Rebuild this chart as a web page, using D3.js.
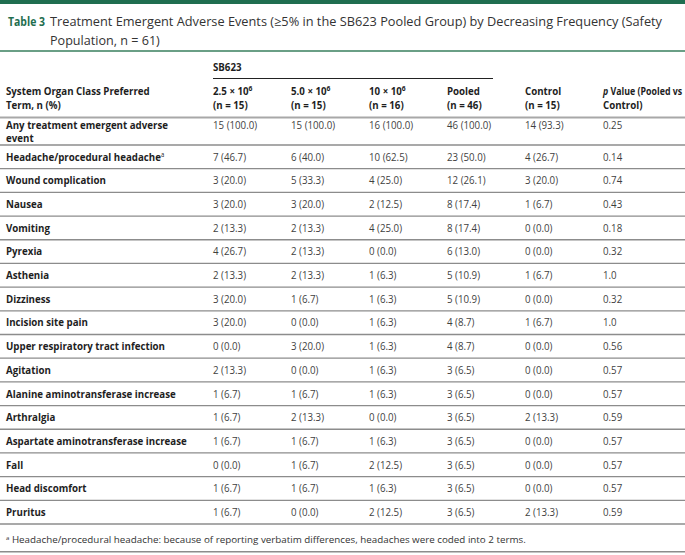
<!DOCTYPE html>
<html>
<head>
<meta charset="utf-8">
<script src="https://cdn.jsdelivr.net/npm/d3@7"></script>
<style>
  html, body { margin: 0; padding: 0; background: #fff; }
  svg { display: block; font-family: "Open Sans", "Noto Sans", sans-serif; }
</style>
</head>
<body>
<svg id="chart" width="685" height="555"></svg>
<script>
// ---------- data ----------
const titleLabel = "Table 3";
const titleLines = [
  "Treatment Emergent Adverse Events (≥5% in the SB623 Pooled Group) by Decreasing Frequency (Safety",
  "Population, n = 61)"
];
const groupLabel = "SB623";
const stubHeader = ["System Organ Class Preferred", "Term, n (%)"];
const columnKeys = ["d25", "d50", "d10", "pooled", "control", "p"];
const columnHeads = [
  [{t: "2.5 × 10"}, {t: "6", sup: true}],
  [{t: "5.0 × 10"}, {t: "6", sup: true}],
  [{t: "10 × 10"}, {t: "6", sup: true}],
  [{t: "Pooled"}],
  [{t: "Control"}],
  [{t: "p", it: true}, {t: " Value (Pooled vs"}]
];
const columnSub = ["(n = 15)", "(n = 15)", "(n = 16)", "(n = 46)", "(n = 15)", "Control)"];

const anyLabel = ["Any treatment emergent adverse", "event"];
const anyValues = ["15 (100.0)", "15 (100.0)", "16 (100.0)", "46 (100.0)", "14 (93.3)", "0.25"];

const terms = [
  "Headache/procedural headache", "Wound complication", "Nausea", "Vomiting", "Pyrexia",
  "Asthenia", "Dizziness", "Incision site pain", "Upper respiratory tract infection",
  "Agitation", "Alanine aminotransferase increase", "Arthralgia",
  "Aspartate aminotransferase increase", "Fall", "Head discomfort", "Pruritus"
];
const termNotes = ["a", "", "", "", "", "", "", "", "", "", "", "", "", "", "", ""];
const dose25 = ["7 (46.7)", "3 (20.0)", "3 (20.0)", "2 (13.3)", "4 (26.7)", "2 (13.3)", "3 (20.0)", "3 (20.0)", "0 (0.0)", "2 (13.3)", "1 (6.7)", "1 (6.7)", "1 (6.7)", "0 (0.0)", "1 (6.7)", "1 (6.7)"];
const dose50 = ["6 (40.0)", "5 (33.3)", "3 (20.0)", "2 (13.3)", "2 (13.3)", "2 (13.3)", "1 (6.7)", "0 (0.0)", "3 (20.0)", "0 (0.0)", "1 (6.7)", "2 (13.3)", "1 (6.7)", "1 (6.7)", "1 (6.7)", "0 (0.0)"];
const dose10 = ["10 (62.5)", "4 (25.0)", "2 (12.5)", "4 (25.0)", "0 (0.0)", "1 (6.3)", "1 (6.3)", "1 (6.3)", "1 (6.3)", "1 (6.3)", "1 (6.3)", "0 (0.0)", "1 (6.3)", "2 (12.5)", "1 (6.3)", "2 (12.5)"];
const pooled = ["23 (50.0)", "12 (26.1)", "8 (17.4)", "8 (17.4)", "6 (13.0)", "5 (10.9)", "5 (10.9)", "4 (8.7)", "4 (8.7)", "3 (6.5)", "3 (6.5)", "3 (6.5)", "3 (6.5)", "3 (6.5)", "3 (6.5)", "3 (6.5)"];
const control = ["4 (26.7)", "3 (20.0)", "1 (6.7)", "0 (0.0)", "0 (0.0)", "1 (6.7)", "0 (0.0)", "1 (6.7)", "0 (0.0)", "0 (0.0)", "0 (0.0)", "2 (13.3)", "0 (0.0)", "0 (0.0)", "0 (0.0)", "2 (13.3)"];
const pValues = ["0.14", "0.74", "0.43", "0.18", "0.32", "1.0", "0.32", "1.0", "0.56", "0.57", "0.57", "0.59", "0.57", "0.57", "0.57", "0.59"];

const footnoteMark = "a";
const footnoteText = " Headache/procedural headache: because of reporting verbatim differences, headaches were coded into 2 terms.";

// ---------- layout ----------
const W = 685, H = 555;
const SX = 0.9;               // horizontal text compression
const svg = d3.select("#chart");
const green = "#1f6e50", greenLight = "#6a9f86";
const labelColor = "#1e1e1e", cellColor = "#3f3f3f";
const labelSize = 10.8, cellSize = 10.8;
const labelX = 6;

const x = d3.scaleBand().domain(columnKeys).range([213, 681]);
const y = d3.scaleBand().domain(terms).range([145, 524]);

function txt(parent, px, py, size, weight, color) {
  return parent.append("text")
    .attr("transform", `translate(${px},${py}) scale(${SX},1)`)
    .attr("font-size", size).attr("font-weight", weight).attr("fill", color);
}

// top bar
svg.append("rect").attr("x", 0).attr("y", 0).attr("width", W).attr("height", 4).attr("fill", green);

// title
svg.append("text").attr("x", 8).attr("y", 26).attr("font-size", 12.6).attr("font-weight", 700)
  .attr("fill", green).attr("textLength", 37).attr("lengthAdjust", "spacingAndGlyphs").text(titleLabel);
svg.append("text").attr("x", 50).attr("y", 26).attr("font-size", 12.6).attr("fill", "#333")
  .attr("textLength", 612).attr("lengthAdjust", "spacingAndGlyphs").text(titleLines[0]);
svg.append("text").attr("x", 50).attr("y", 45).attr("font-size", 12.6).attr("fill", "#333").text(titleLines[1]);

svg.append("rect").attr("x", 0).attr("y", 50).attr("width", W).attr("height", 2).attr("fill", greenLight);

// header
txt(svg, x("d25"), 71, labelSize, 700, labelColor).text(groupLabel);
svg.append("line").attr("x1", x("d25")).attr("x2", x("pooled") + 46).attr("y1", 78.5).attr("y2", 78.5)
  .attr("stroke", "#222").attr("stroke-width", 1);

stubHeader.forEach((s, i) => {
  txt(svg, labelX, 95 + i * 14, labelSize, 700, labelColor).text(s);
});

columnKeys.forEach((k, i) => {
  const t = txt(svg, x(k), 95, k === "p" ? 9.8 : labelSize, 700, labelColor);
  columnHeads[i].forEach(p => {
    const ts = t.append("tspan").text(p.t);
    if (p.sup) ts.attr("font-size", 7.5).attr("dy", -4.5);
    if (p.it) ts.attr("font-style", "italic");
  });
  txt(svg, x(k), 109, labelSize, 700, labelColor).text(columnSub[i]);
});

svg.append("rect").attr("x", 0).attr("y", 116.5).attr("width", W).attr("height", 2).attr("fill", "#a8a8a8");

// "Any" row
anyLabel.forEach((s, i) => {
  txt(svg, labelX, 128.5 + i * 13.5, labelSize, 700, labelColor).text(s);
});
columnKeys.forEach((k, i) => {
  txt(svg, x(k), 128.5, cellSize, 400, cellColor).text(anyValues[i]);
});

// rows
const rows = terms.map((t, i) => ({
  term: t, note: termNotes[i],
  d25: dose25[i], d50: dose50[i], d10: dose10[i], pooled: pooled[i], control: control[i], p: pValues[i]
}));

const sepY = [y(terms[0])].concat(terms.map(t => y(t) + y.bandwidth()));
svg.selectAll("line.sep").data(sepY).join("line")
  .attr("class", "sep")
  .attr("x1", 0).attr("x2", W)
  .attr("y1", d => d).attr("y2", d => d)
  .attr("stroke", "#8c8c8c").attr("stroke-width", 1.3);

const g = svg.selectAll("g.row").data(rows).join("g").attr("class", "row")
  .attr("transform", d => `translate(0,${y(d.term) + y.bandwidth() / 2})`);

g.each(function(d) {
  const sel = d3.select(this);
  const lt = txt(sel, labelX, 0, labelSize, 700, labelColor).attr("dy", "0.35em");
  lt.append("tspan").text(d.term);
  if (d.note) lt.append("tspan").attr("font-size", 6.5).attr("dy", -4).attr("font-weight", 400).text(d.note);
  columnKeys.forEach(k => {
    txt(sel, x(k), 0, cellSize, 400, cellColor).attr("dy", "0.35em").text(d[k]);
  });
});

// footnote
const fn = svg.append("text").attr("x", 6).attr("y", 543).attr("font-size", 9.8).attr("fill", "#333");
fn.append("tspan").attr("font-size", 6).attr("dy", -3).text(footnoteMark);
fn.append("tspan").attr("dy", 3).text(footnoteText);

svg.append("rect").attr("x", 0).attr("y", 551).attr("width", W).attr("height", 1.5).attr("fill", "#8c8c8c");
</script>
</body>
</html>
